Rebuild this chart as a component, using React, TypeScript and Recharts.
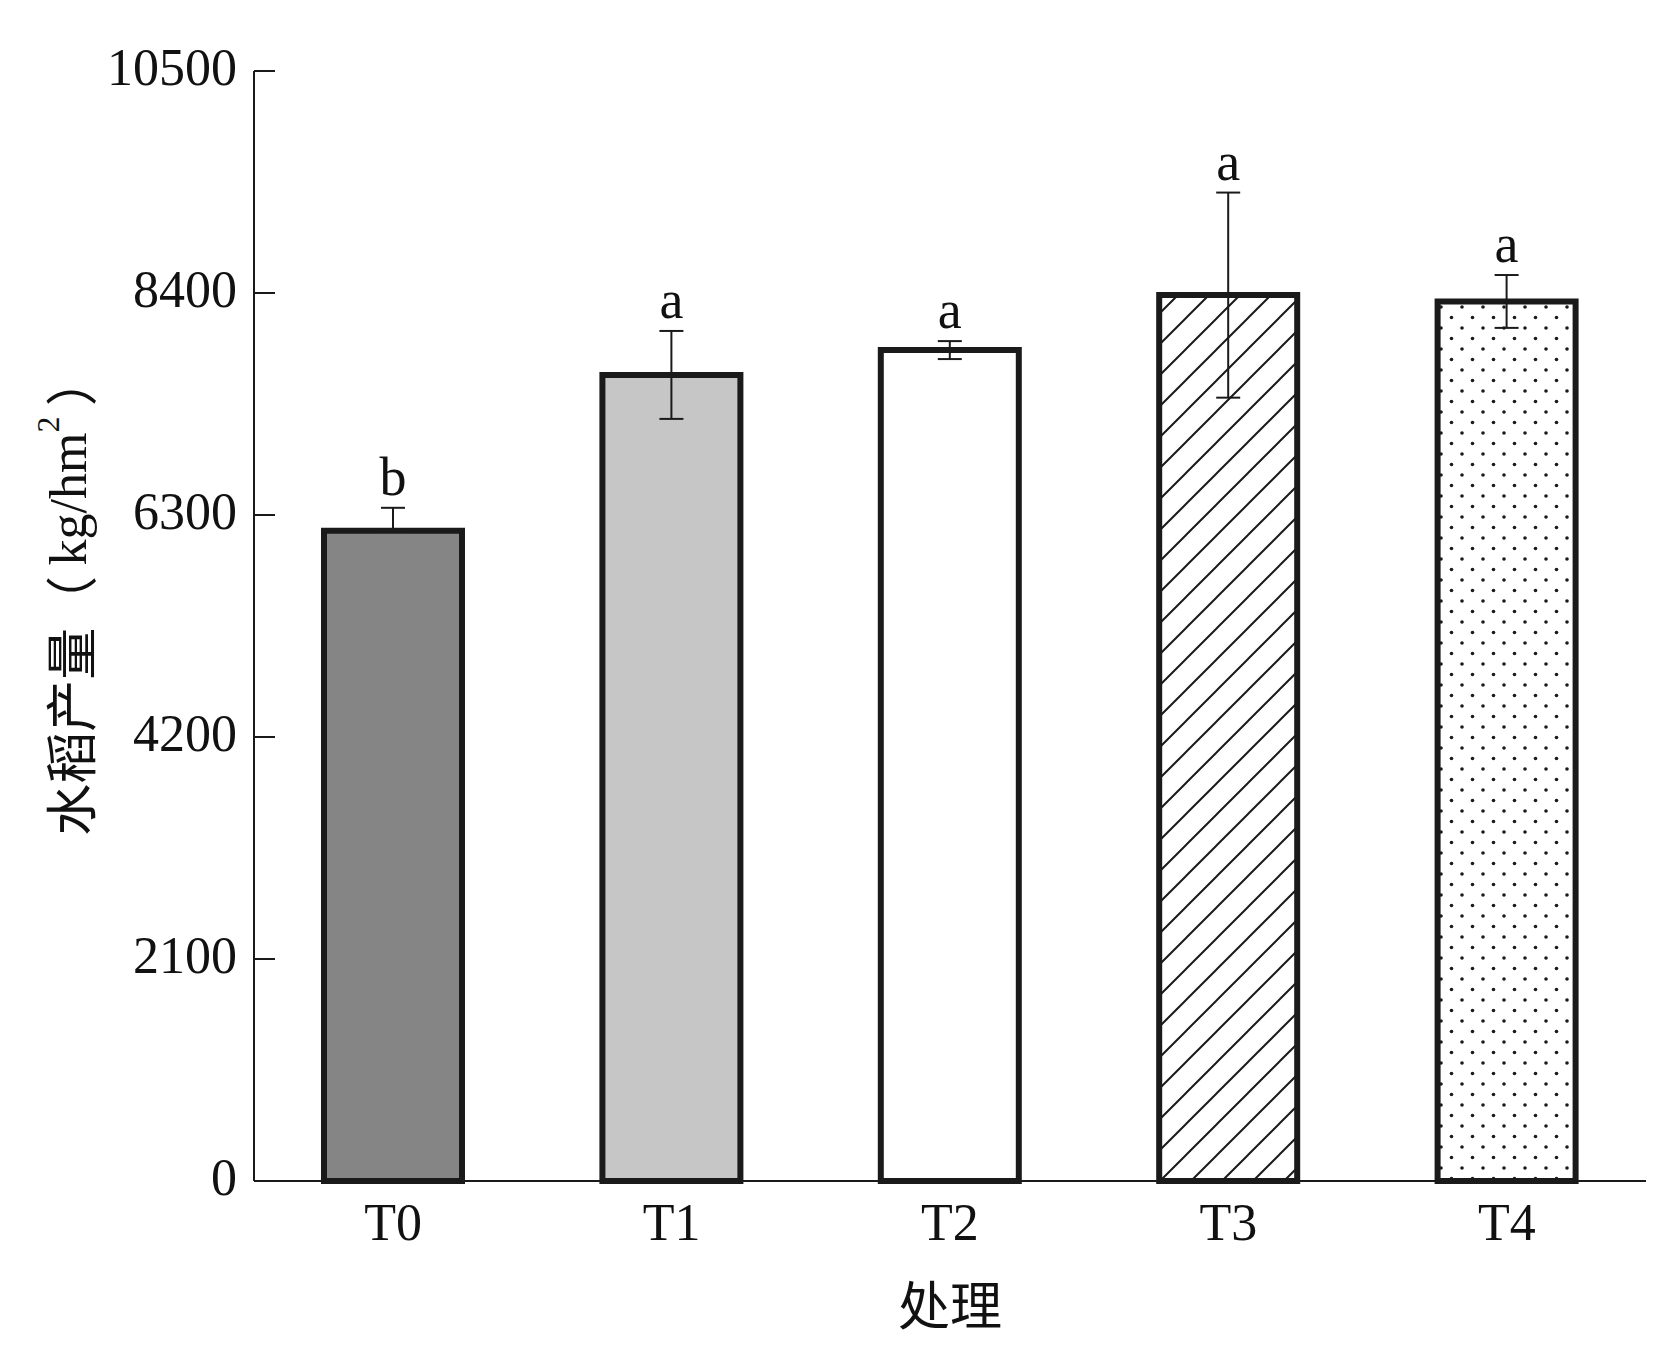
import React from 'react';
import { BarChart, Bar, XAxis, YAxis, ErrorBar, Cell, LabelList } from 'recharts';

const categories = ['T0', 'T1', 'T2', 'T3', 'T4'];
const yieldValues = [6150, 7625, 7860, 8380, 8320];
const errorUpper = [218, 416, 85, 970, 250];
const errorLower = [0, 416, 85, 970, 250];
const letters = ['b', 'a', 'a', 'a', 'a'];
const yTicks = [0, 2100, 4200, 6300, 8400, 10500];

const data = categories.map((name, i) => ({
  name,
  value: yieldValues[i],
  err: [errorLower[i], errorUpper[i]],
}));

const fills = ['#858585', '#c6c6c6', '#ffffff', 'url(#hatch)', 'url(#dots)'];

const FONT = "'Liberation Serif', 'Times New Roman', 'Noto Sans CJK SC', serif";
const CJK = "'Noto Sans CJK SC', serif";
const INK = '#1a1a1a';

const YTick = (props: any) => {
  const { x, y, payload } = props;
  const axisX = x + 17;
  return (
    <g>
      <line x1={axisX} x2={axisX + 21} y1={y} y2={y} stroke={INK} strokeWidth={2} />
      <text x={x} y={y + 14} textAnchor="end" fontSize={52} fontFamily={FONT} fill="#111">
        {payload.value}
      </text>
    </g>
  );
};

const XTick = (props: any) => {
  const { x, y, payload } = props;
  return (
    <text x={x} y={y + 59} textAnchor="middle" fontSize={52} fontFamily={FONT} fill="#111">
      {payload.value}
    </text>
  );
};

const renderLetter = (props: any) => {
  const { x, y, width, height, value, index } = props;
  if (value == null || !height) return null;
  const pxPerUnit = height / value;
  const errTop = y - errorUpper[index] * pxPerUnit;
  return (
    <text
      x={x + width / 2}
      y={errTop - 13}
      textAnchor="middle"
      fontSize={54}
      fontFamily={FONT}
      fill="#111"
    >
      {letters[index]}
    </text>
  );
};

const XLabel = (props: any) => {
  const vb = props.viewBox || {};
  return (
    <text
      x={vb.x + vb.width / 2}
      y={vb.y + 144}
      textAnchor="middle"
      fontSize={52}
      fontFamily={CJK}
      fill="#111"
    >
      处理
    </text>
  );
};

const YLabel = (props: any) => {
  const vb = props.viewBox || {};
  const cx = 60;
  const cy = vb.y + vb.height / 2 - 31;
  return (
    <text
      x={cx}
      y={cy}
      transform={`rotate(-90, ${cx}, ${cy})`}
      textAnchor="middle"
      dominantBaseline="central"
      fontSize={52}
      fontFamily={FONT}
      fill="#111"
    >
      <tspan fontFamily={CJK}>水稻产量（</tspan>
      <tspan>{'\u2009kg/hm'}</tspan>
      <tspan fontSize={32} dy={-20}>2</tspan>
      <tspan fontFamily={CJK} dy={20}>{'\u2009）'}</tspan>
    </text>
  );
};

export default function App() {
  return (
    <div style={{ width: 1645, height: 1340, background: '#fff' }}>
      <BarChart
        width={1645}
        height={1340}
        data={data}
        margin={{ top: 63, right: 7, bottom: 1, left: 0 }}
      >
        <defs>
          <pattern id="hatch" patternUnits="userSpaceOnUse" width={31} height={31}>
            <rect width={31} height={31} fill="#ffffff" />
            <path d="M0,31 L31,0 M-4,4 L4,-4 M27,35 L35,27" stroke={INK} strokeWidth={2} />
          </pattern>
          <pattern id="dots" patternUnits="userSpaceOnUse" width={21} height={21}>
            <rect width={21} height={21} fill="#ffffff" />
            <circle cx={5} cy={5} r={1.8} fill={INK} />
            <circle cx={15.5} cy={15.5} r={1.8} fill={INK} />
          </pattern>
        </defs>
        <XAxis
          dataKey="name"
          height={166}
          axisLine={{ stroke: INK, strokeWidth: 2 }}
          tickLine={false}
          tickSize={0}
          tickMargin={0}
          tick={<XTick />}
          label={XLabel}
        />
        <YAxis
          width={246}
          domain={[0, 10500]}
          ticks={yTicks}
          interval={0}
          axisLine={{ stroke: INK, strokeWidth: 2 }}
          tickLine={false}
          tickSize={0}
          tickMargin={17}
          tick={<YTick />}
          label={YLabel}
        />
        <Bar
          dataKey="value"
          barSize={138}
          stroke={INK}
          strokeWidth={6}
          isAnimationActive={false}
        >
          {data.map((d, i) => (
            <Cell key={d.name} fill={fills[i]} />
          ))}
          <ErrorBar dataKey="err" width={12} strokeWidth={2} stroke={INK} direction="y" />
          <LabelList dataKey="value" content={renderLetter} />
        </Bar>
      </BarChart>
    </div>
  );
}
